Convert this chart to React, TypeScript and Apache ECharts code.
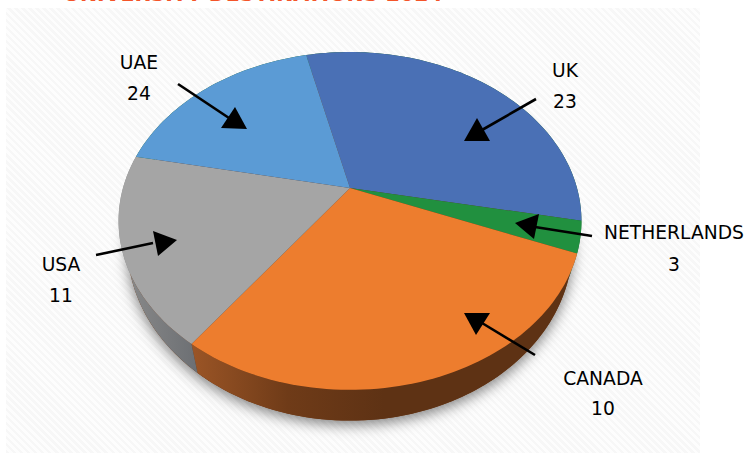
import React, { useEffect, useRef } from "react";
import * as echarts from "echarts";

// Text as printed on the picture
const titleText = "UNIVERSITY DESTINATIONS 2024";
const categories = ["UK", "NETHERLANDS", "CANADA", "USA", "UAE"];
const printedValues = [23, 3, 10, 11, 24];
// Slice sizes as drawn (percent of the disc; they differ from the printed numbers)
const sliceShares = [31.8, 3, 28.9, 18.2, 18.1];
const sliceColors = ["#4a70b5", "#21903f", "#ed7d2e", "#a5a5a5", "#5b9bd5"];

// Layout only
const startAngle = -13.3;
const disc = { cx: 350, cy: 188, a: 227, b: 162.5, k: 0.195 };
const wall = { scaleX: 0.962, scaleY: 1.04, ellipseCy: 221, shiftedCy: 245 };
const labelPos = [
  [565, 70, 101],
  [674, 232, 264],
  [603, 378, 408],
  [61, 264, 295],
  [139, 62, 93],
];
const arrows = [
  { line: [[536, 99], [482, 130]], head: [[477, 118], [464, 141], [490, 141]] },
  { line: [[592, 236], [535, 227]], head: [[515, 223], [539, 214], [534, 239]] },
  { line: [[535, 355], [482, 323]], head: [[464, 313], [490, 313], [476, 335]] },
  { line: [[96, 255], [153, 243]], head: [[177, 240], [153, 231], [158, 256]] },
  { line: [[178, 84], [229, 118]], head: [[235, 107], [221, 128], [247, 129]] },
];

const project = (deg: number) => {
  const r = (deg * Math.PI) / 180;
  const u = Math.sin(r);
  const v = Math.cos(r);
  const w = 1 + disc.k * v;
  return [disc.cx + (disc.a * u) / w, disc.cy - (disc.b * v) / w];
};
const lower = (p: number[]) => [
  disc.cx + (p[0] - disc.cx) * wall.scaleX,
  wall.shiftedCy + (p[1] - wall.ellipseCy) * wall.scaleY,
];
const arc = (from: number, to: number) => {
  const pts: number[][] = [];
  const n = Math.max(2, Math.ceil(Math.abs(to - from) / 1.5));
  for (let i = 0; i <= n; i++) pts.push(project(from + ((to - from) * i) / n));
  return pts;
};

const total = sliceShares.reduce((s, v) => s + v, 0);
let running = startAngle;
const sliceAngles = sliceShares.map((s) => {
  const from = running;
  running += (s / total) * 360;
  return [from, running];
});

const wallFill = (i: number) => {
  if (i === 2)
    return new echarts.graphic.LinearGradient(0, 0, 1, 0, [
      { offset: 0, color: "#9b5526" },
      { offset: 0.25, color: "#6f3b18" },
      { offset: 0.5, color: "#5e3214" },
      { offset: 1, color: "#5e3214" },
    ]);
  if (i === 3)
    return new echarts.graphic.LinearGradient(0, 0, 1, 0, [
      { offset: 0, color: "#8c8c8c" },
      { offset: 1, color: "#6c6f73" },
    ]);
  return "#17602b";
};

export default function App() {
  const ref = useRef<HTMLDivElement>(null);
  useEffect(() => {
    const chart = echarts.init(ref.current!, null, { renderer: "svg" });
    const graphics: any[] = [
      {
        type: "text",
        x: 253,
        y: 4,
        z: 5,
        style: {
          text: titleText,
          fill: "#f4552a",
          font: "bold 20.5px 'DejaVu Sans'",
          align: "center",
          verticalAlign: "bottom",
        },
      },
    ];
    categories.forEach((name, i) => {
      const [x, y1, y2] = labelPos[i];
      const textStyle = { fill: "#000", font: "18.7px 'DejaVu Sans'", align: "center", verticalAlign: "middle" };
      graphics.push({ type: "text", x, y: y1, z: 6, style: { ...textStyle, text: name } });
      graphics.push({ type: "text", x, y: y2, z: 6, style: { ...textStyle, text: String(printedValues[i]) } });
      const a = arrows[i];
      graphics.push({
        type: "polyline",
        z: 6,
        shape: { points: a.line },
        style: { stroke: "#000", lineWidth: 2.6, fill: "none" },
      });
      graphics.push({ type: "polygon", z: 6, shape: { points: a.head }, style: { fill: "#000" } });
    });

    chart.setOption({
      animation: false,
      backgroundColor: "transparent",
      graphic: graphics,
      series: [
        {
          type: "custom",
          coordinateSystem: "none",
          z: 1,
          silent: true,
          data: [[0, 360]],
          renderItem: (_: any, api: any) => ({
            type: "polygon",
            shape: { points: arc(api.value(0), api.value(1)).map(lower) },
            style: {
              fill: "#5e3214",
              shadowBlur: 14,
              shadowOffsetY: 4,
              shadowColor: "rgba(0,0,0,0.5)",
            },
          }),
        },
        {
          type: "custom",
          coordinateSystem: "none",
          z: 2,
          silent: true,
          data: sliceAngles,
          renderItem: (params: any, api: any) => {
            const top = arc(api.value(0), api.value(1));
            return {
              type: "polygon",
              shape: { points: [...top, ...top.map(lower).reverse()] },
              style: { fill: wallFill(params.dataIndex) },
            };
          },
        },
        {
          type: "custom",
          coordinateSystem: "none",
          z: 3,
          silent: true,
          data: sliceAngles,
          renderItem: (params: any, api: any) => ({
            type: "polygon",
            shape: { points: [[disc.cx, disc.cy], ...arc(api.value(0), api.value(1))] },
            style: { fill: sliceColors[params.dataIndex] },
          }),
        },
      ],
    });
    return () => chart.dispose();
  }, []);
  return (
    <div style={{ position: "absolute", left: 0, top: 0, width: 744, height: 453, background: "#fff", overflow: "hidden" }}>
      <div
        style={{
          position: "absolute",
          left: 6,
          top: 8,
          width: 694,
          height: 445,
          background: "repeating-linear-gradient(45deg, #f7f7f7 0 2.5px, #fdfdfd 2.5px 5px)",
        }}
      />
      <div ref={ref} style={{ position: "absolute", left: 0, top: 0, width: 744, height: 453 }} />
    </div>
  );
}
